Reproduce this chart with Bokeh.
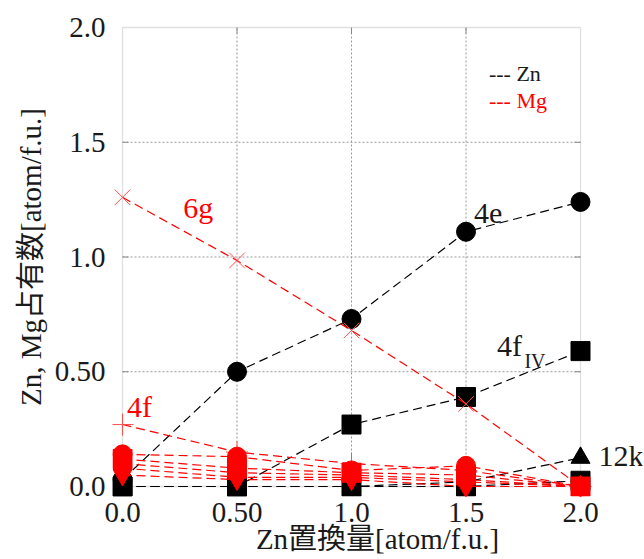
from bokeh.plotting import figure
from bokeh.models import Range1d, FixedTicker, BoxAnnotation, Label
from bokeh.embed import file_html
from bokeh.resources import INLINE

# ---------------- data ----------------
x_zn = [0.0, 0.5, 1.0, 1.5, 2.0]
XTICKS = [0.0, 0.5, 1.0, 1.5, 2.0]
XTICK_LABELS = ["0.0", "0.50", "1.0", "1.5", "2.0"]
YTICKS = [0.0, 0.5, 1.0, 1.5, 2.0]
YTICK_LABELS = ["0.0", "0.50", "1.0", "1.5", "2.0"]

# Zn occupancies (black)
zn_4e = [0.03, 0.50, 0.73, 1.11, 1.24]
zn_4fIV = [0.0, 0.0, 0.27, 0.39, 0.59]
zn_12k = [0.0, 0.0, 0.0, 0.02, 0.125]
zn_other = [0.0, 0.0, 0.0, 0.0, 0.025]

# Mg occupancies (red)
mg_6g = [1.26, 0.985, 0.68, 0.36, 0.0]
mg_4f = [0.27, 0.15, 0.10, 0.07, 0.0]
mg_a = [0.14, 0.13, 0.07, 0.09, 0.0]
mg_b = [0.12, 0.08, 0.06, 0.05, 0.0]
mg_c = [0.10, 0.06, 0.05, 0.03, 0.0]
mg_d = [0.08, 0.04, 0.04, 0.02, 0.0]
mg_e = [0.05, 0.03, 0.03, 0.0, 0.0]

PXU_X = 229.0
PXU_Y = 229.5
PADX = 10 / PXU_X
PADY = 10 / PXU_Y
XMAX = 2 + 62 / PXU_X

SERIF = "Liberation Serif"
CJK = "'Liberation Serif', 'Noto Sans CJK JP'"

p = figure(width=644, height=559,
           x_range=Range1d(-PADX, XMAX), y_range=Range1d(-PADY, 2 + PADY),
           output_backend="svg", toolbar_location=None,
           min_border_left=112, min_border_right=2,
           min_border_top=17, min_border_bottom=63)
p.outline_line_color = None
p.xgrid.grid_line_color = None
p.ygrid.grid_line_color = None
p.background_fill_color = "white"

for ax, ticks, labels in ((p.xaxis, XTICKS, XTICK_LABELS), (p.yaxis, YTICKS, YTICK_LABELS)):
    ax.ticker = FixedTicker(ticks=ticks)
    ax.major_label_overrides = {t: l for t, l in zip(ticks, labels)}
    ax.axis_line_color = None
    ax.major_tick_line_color = None
    ax.minor_tick_line_color = None
    ax.major_label_text_font = SERIF
    ax.major_label_text_font_size = "29px"
    ax.major_label_text_color = "#1a1a1a"
    ax.axis_label_text_font = CJK
    ax.axis_label_text_font_size = "29px"
    ax.axis_label_text_font_style = "normal"
    ax.axis_label_text_color = "#1a1a1a"

p.xaxis.major_label_standoff = 0
p.yaxis.major_label_standoff = 1
p.xaxis.axis_label = "Zn置換量[atom/f.u.]"
p.yaxis.axis_label = "Zn, Mg占有数[atom/f.u.]"
p.xaxis.axis_label_standoff = -2
p.yaxis.axis_label_standoff = 5

# dotted grid inside the box
gx = [t for t in XTICKS if 0 < t < 2]
gy = [t for t in YTICKS if 0 < t < 2]
p.segment(x0=gx, y0=[0] * len(gx), x1=gx, y1=[2] * len(gx),
          line_color="#999999", line_dash="2 2", line_width=1)
p.segment(x0=[0] * len(gy), y0=gy, x1=[2] * len(gy), y1=gy,
          line_color="#999999", line_dash="2 2", line_width=1)

# inward tick marks on all four sides
tx = 6 / PXU_X
ty = 6 / PXU_Y
p.segment(x0=gx, y0=[0] * len(gx), x1=gx, y1=[ty] * len(gx), line_color="#888888")
p.segment(x0=gx, y0=[2] * len(gx), x1=gx, y1=[2 - ty] * len(gx), line_color="#888888")
p.segment(x0=[0] * len(gy), y0=gy, x1=[tx] * len(gy), y1=gy, line_color="#888888")
p.segment(x0=[2] * len(gy), y0=gy, x1=[2 - tx] * len(gy), y1=gy, line_color="#888888")

box = BoxAnnotation(left=0, right=2, bottom=0, top=2, fill_color=None,
                    line_color="#999999", line_width=1.3, level="underlay")
p.add_layout(box)

BL = "black"
RD = "#ff0000"
DASH = "9 5"
MS = 19

# Zn series
p.line(x_zn, zn_other, line_color=BL, line_dash=DASH, line_width=1.2)
p.scatter(x_zn, zn_other, marker="square", size=MS, color=BL)
p.line(x_zn, zn_12k, line_color=BL, line_dash=DASH, line_width=1.2)
p.scatter(x_zn, zn_12k, marker="triangle", size=MS, color=BL)
p.line(x_zn, zn_4fIV, line_color=BL, line_dash=DASH, line_width=1.2)
p.scatter(x_zn, zn_4fIV, marker="square", size=MS, color=BL)
p.line(x_zn, zn_4e, line_color=BL, line_dash=DASH, line_width=1.2)
p.scatter(x_zn, zn_4e, marker="circle", size=MS, color=BL)

# Mg series
p.line(x_zn, mg_6g, line_color=RD, line_dash=DASH, line_width=1.2)
p.scatter(x_zn, mg_6g, marker="x", size=22, line_color="#ff5050", line_width=1)
p.line(x_zn, mg_4f, line_color=RD, line_dash=DASH, line_width=1.2)
p.scatter(x_zn, mg_4f, marker="cross", size=22, line_color="#ff5050", line_width=1)
for ser, mk in ((mg_e, "inverted_triangle"), (mg_d, "diamond"), (mg_c, "triangle"),
                (mg_b, "square"), (mg_a, "circle")):
    p.line(x_zn, ser, line_color=RD, line_dash=DASH, line_width=1.2)
    p.scatter(x_zn, ser, marker=mk, size=MS, color=RD)

# site labels
def lab(x, y, t, color, size="30px", **kw):
    p.add_layout(Label(x=x, y=y, text=t, text_color=color, text_font=SERIF,
                       text_font_size=size, text_baseline="middle", **kw))

lab(1.535, 1.19, "4e", "#1a1a1a")
lab(1.635, 0.615, "4f", "#1a1a1a")
lab(1.755, 0.545, "IV", "#1a1a1a", size="20px")
lab(2.079, 0.135, "12k", "#1a1a1a")
lab(0.265, 1.215, "6g", RD)
lab(0.02, 0.35, "4f", RD)

# text legend
lab(1.60, 1.80, "--- Zn", "#1a1a1a", size="22px")
lab(1.60, 1.68, "--- Mg", RD, size="22px")

open("out.html", "w").write(file_html(p, INLINE))
